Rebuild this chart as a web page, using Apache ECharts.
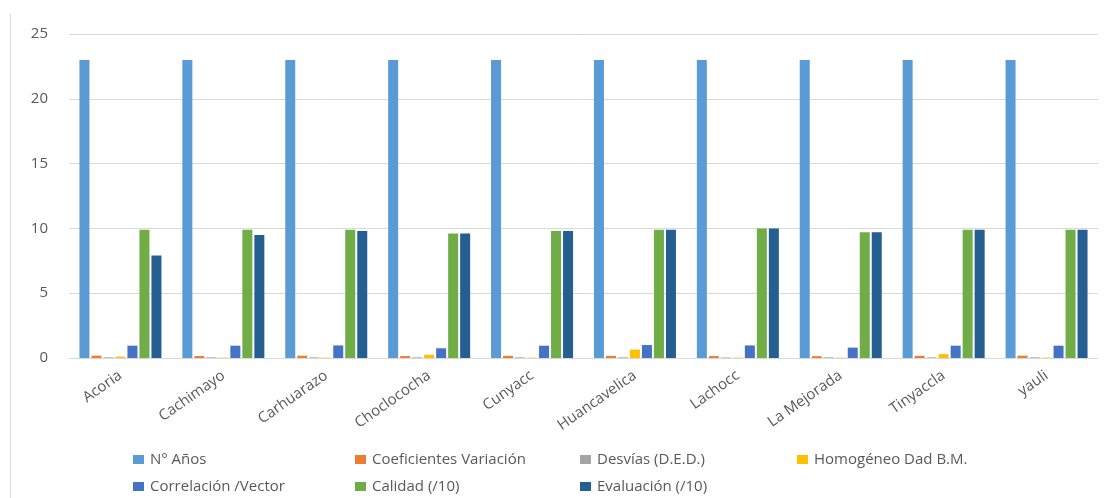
<!DOCTYPE html>
<html>
<head>
<meta charset="utf-8">
<script src="https://cdn.jsdelivr.net/npm/echarts@6/dist/echarts.min.js"></script>
<style>
  html, body { margin: 0; padding: 0; background: #fff; }
  #chart { width: 1110px; height: 498px; }
</style>
</head>
<body>
<div id="chart"></div>
<script>
const categories = ['Acoria', 'Cachimayo', 'Carhuarazo', 'Choclococha', 'Cunyacc', 'Huancavelica', 'Lachocc', 'La Mejorada', 'Tinyaccla', 'yauli'];
const seriesNames = ['N° Años', 'Coeficientes Variación', 'Desvías (D.E.D.)', 'Homogéneo Dad B.M.', 'Correlación /Vector', 'Calidad (/10)', 'Evaluación (/10)'];

const nAnios = [23, 23, 23, 23, 23, 23, 23, 23, 23, 23];
const coefVariacion = [0.18, 0.15, 0.18, 0.15, 0.17, 0.16, 0.15, 0.14, 0.17, 0.18];
const desvias = [0.05, 0.05, 0.05, 0.05, 0.05, 0.05, 0.04, 0.05, 0.05, 0.05];
const homogeneo = [0.1, 0.03, 0.03, 0.25, 0.03, 0.65, 0.03, 0.03, 0.3, 0.03];
const correlacion = [0.95, 0.95, 0.97, 0.75, 0.95, 1.0, 0.97, 0.8, 0.95, 0.95];
const calidad = [9.9, 9.9, 9.9, 9.6, 9.8, 9.9, 10, 9.7, 9.9, 9.9];
const evaluacion = [7.9, 9.5, 9.8, 9.6, 9.8, 9.9, 10, 9.7, 9.9, 9.9];

const yTicks = [0, 5, 10, 15, 20, 25];

const values = [nAnios, coefVariacion, desvias, homogeneo, correlacion, calidad, evaluacion];
const colors = ['#5b9bd5', '#ed7d31', '#a5a5a5', '#ffc000', '#4472c4', '#70ad47', '#255e91'];

// legend slots, Excel-style layout in two rows
const legendPos = [
  [133, 452], [355, 452], [580, 452], [797, 452],
  [133, 479], [355, 479], [580, 479],
];

const textColor = '#595959';
const fontFamily = 'Open Sans, Noto Sans, sans-serif';

const chart = echarts.init(document.getElementById('chart'), null, { renderer: 'canvas' });

chart.setOption({
  animation: false,
  color: colors,
  grid: { left: 69, right: 12, top: 34, bottom: 140, containLabel: false },
  legend: seriesNames.map((name, i) => ({
    data: [name],
    left: legendPos[i][0],
    top: legendPos[i][1],
    icon: 'rect',
    itemWidth: 11,
    itemHeight: 9,
    itemGap: 0,
    padding: 0,
    textStyle: { color: textColor, fontSize: 15, fontFamily, padding: [0, 0, 0, 1] },
  })),
  xAxis: {
    type: 'category',
    data: categories,
    axisLine: { show: true, lineStyle: { color: '#d9d9d9', width: 1 } },
    axisTick: { show: false },
    axisLabel: { rotate: 35, color: textColor, fontSize: 15, fontFamily, margin: 16 },
  },
  yAxis: {
    type: 'value',
    min: yTicks[0],
    max: yTicks[yTicks.length - 1],
    interval: 5,
    axisLine: { show: false },
    axisTick: { show: false },
    axisLabel: { color: textColor, fontSize: 15, fontFamily, margin: 21 },
    splitLine: { lineStyle: { color: '#d9d9d9', width: 1 } },
  },
  graphic: [{
    type: 'line',
    shape: { x1: 10.5, y1: 14, x2: 10.5, y2: 498 },
    style: { stroke: '#d9d9d9', lineWidth: 1 },
  }],
  series: seriesNames.map((name, i) => ({
    name,
    type: 'bar',
    data: values[i],
    barWidth: 10,
    barGap: '20%',
    barCategoryGap: '20%',
    itemStyle: { color: colors[i] },
  })),
});
</script>
</body>
</html>
